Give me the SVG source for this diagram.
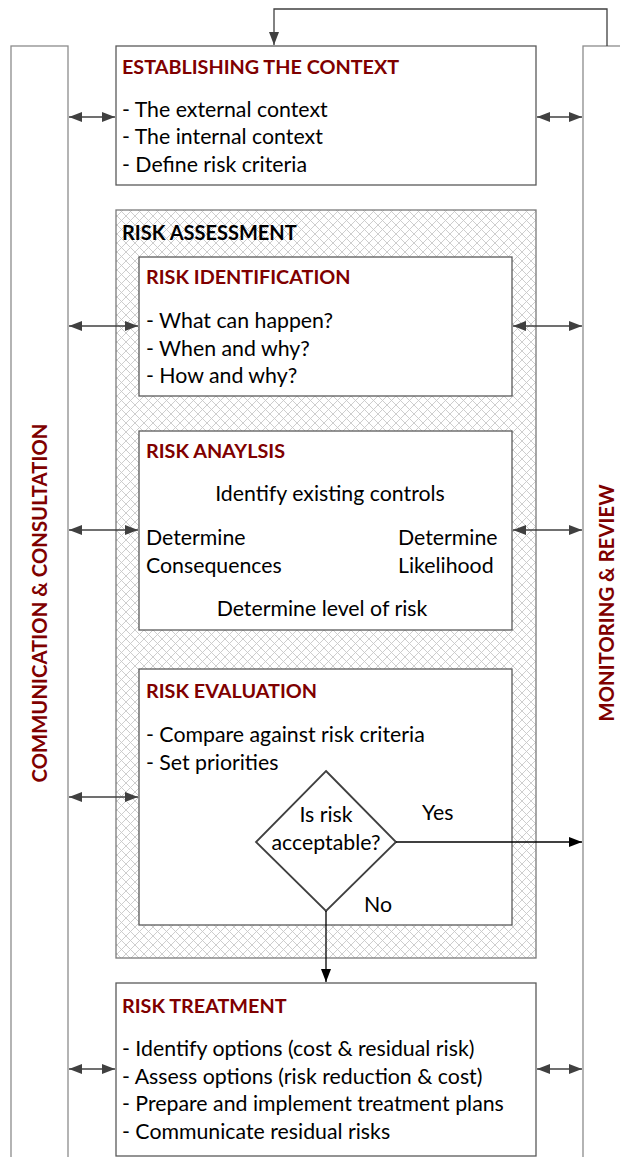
<svg xmlns="http://www.w3.org/2000/svg" width="620" height="1157" viewBox="0 0 620 1157">
  <defs>
    <pattern id="hatch" width="9" height="9" patternUnits="userSpaceOnUse">
      <rect width="9" height="9" fill="#ffffff"/>
      <path d="M0,0 L9,9 M9,0 L0,9" stroke="#c8c8c8" stroke-width="0.9"/>
    </pattern>
    <marker id="ah" viewBox="0 0 13 10" refX="13" refY="5" markerWidth="13" markerHeight="10" markerUnits="userSpaceOnUse" orient="auto-start-reverse">
      <path d="M0,0 L13,5 L0,10 Z" fill="#404040"/>
    </marker>
    <marker id="ahb" viewBox="0 0 13 10" refX="13" refY="5" markerWidth="13" markerHeight="10" markerUnits="userSpaceOnUse" orient="auto">
      <path d="M0,0 L13,5 L0,10 Z" fill="#000000"/>
    </marker>
  </defs>
  <style>
    text { font-family: Lato, "Liberation Sans", sans-serif; font-size: 21.3px; fill: #000; }
    .title { font-weight: bold; fill: #7f0000; font-size: 19.8px; }
    .side { font-weight: bold; fill: #7f0000; font-size: 20.3px; }
    .black { font-weight: bold; fill: #000; font-size: 20px; }
    .mid { text-anchor: middle; }
    .box { fill: #ffffff; stroke: #5a5a5a; stroke-width: 1.3; }
    .col { fill: #ffffff; stroke: #8c8c8c; stroke-width: 1.3; }
    .dbl { stroke: #404040; stroke-width: 1.5; fill: none; marker-start: url(#ah); marker-end: url(#ah); }
    .flow { stroke: #000; stroke-width: 1.3; fill: none; marker-end: url(#ahb); }
  </style>

  <!-- side columns -->
  <g id="communication">
    <rect class="col" x="11" y="46" width="57" height="1120"/>
    <text class="side mid" transform="translate(47,603) rotate(-90)">COMMUNICATION &amp; CONSULTATION</text>
  </g>
  <g id="monitoring">
    <rect class="col" x="583" y="46" width="60" height="1120"/>
    <text class="side mid" transform="translate(614,603) rotate(-90)">MONITORING &amp; REVIEW</text>
  </g>

  <!-- context -->
  <g id="context">
    <rect class="box" x="116" y="46" width="420" height="139"/>
    <text class="title" x="122" y="74">ESTABLISHING THE CONTEXT</text>
    <text x="122" y="117">- The external context</text>
    <text x="122" y="144">- The internal context</text>
    <text x="122" y="172">- Define risk criteria</text>
  </g>

  <!-- assessment container -->
  <g id="assessment">
    <rect x="116" y="210" width="420" height="748" fill="url(#hatch)" stroke="#7a7a7a" stroke-width="1.3"/>
    <text class="black" x="122" y="240">RISK ASSESSMENT</text>
  </g>

  <g id="identification">
    <rect class="box" x="139" y="257" width="373" height="139"/>
    <text class="title" x="146" y="284">RISK IDENTIFICATION</text>
    <text x="146" y="328">- What can happen?</text>
    <text x="146" y="356">- When and why?</text>
    <text x="146" y="383">- How and why?</text>
  </g>

  <g id="analysis">
    <rect class="box" x="139" y="431" width="373" height="199"/>
    <text class="title" x="146" y="458">RISK ANAYLSIS</text>
    <text class="mid" x="330" y="501">Identify existing controls</text>
    <text x="146" y="545">Determine</text>
    <text x="146" y="573">Consequences</text>
    <text x="398" y="545">Determine</text>
    <text x="398" y="573">Likelihood</text>
    <text class="mid" x="322" y="616">Determine level of risk</text>
  </g>

  <g id="evaluation">
    <rect class="box" x="139" y="669" width="373" height="256"/>
    <text class="title" x="146" y="698">RISK EVALUATION</text>
    <text x="146" y="742">- Compare against risk criteria</text>
    <text x="146" y="770">- Set priorities</text>
  </g>

  <g id="decision">
    <polygon points="326,771 396,842 326,911 256,842" fill="#ffffff" stroke="#404040" stroke-width="1.8"/>
    <text class="mid" x="326" y="822">Is risk</text>
    <text class="mid" x="326" y="850">acceptable?</text>
  </g>

  <g id="treatment">
    <rect class="box" x="116" y="983" width="420" height="173"/>
    <text class="title" x="122" y="1013">RISK TREATMENT</text>
    <text x="122" y="1056">- Identify options (cost &amp; residual risk)</text>
    <text x="122" y="1084">- Assess options (risk reduction &amp; cost)</text>
    <text x="122" y="1111">- Prepare and implement treatment plans</text>
    <text x="122" y="1139">- Communicate residual risks</text>
  </g>

  <!-- connectors -->
  <g id="connectors">
    <path d="M607,46 L607,9 L274,9 L274,45" stroke="#404040" stroke-width="1.3" fill="none" marker-end="url(#ah)"/>
    <line class="dbl" x1="69" y1="117" x2="115" y2="117"/>
    <line class="dbl" x1="537" y1="117" x2="582" y2="117"/>
    <line class="dbl" x1="69" y1="326" x2="138" y2="326"/>
    <line class="dbl" x1="513" y1="326" x2="582" y2="326"/>
    <line class="dbl" x1="69" y1="530" x2="138" y2="530"/>
    <line class="dbl" x1="513" y1="530" x2="582" y2="530"/>
    <line class="dbl" x1="69" y1="797" x2="138" y2="797"/>
    <line class="dbl" x1="537" y1="1069" x2="582" y2="1069"/>
    <line class="dbl" x1="69" y1="1069" x2="115" y2="1069"/>
    <line class="flow" x1="396" y1="842" x2="582" y2="842"/>
    <line class="flow" x1="326" y1="911" x2="326" y2="982"/>
    <text x="422" y="820">Yes</text>
    <text x="364" y="912">No</text>
  </g>
</svg>
